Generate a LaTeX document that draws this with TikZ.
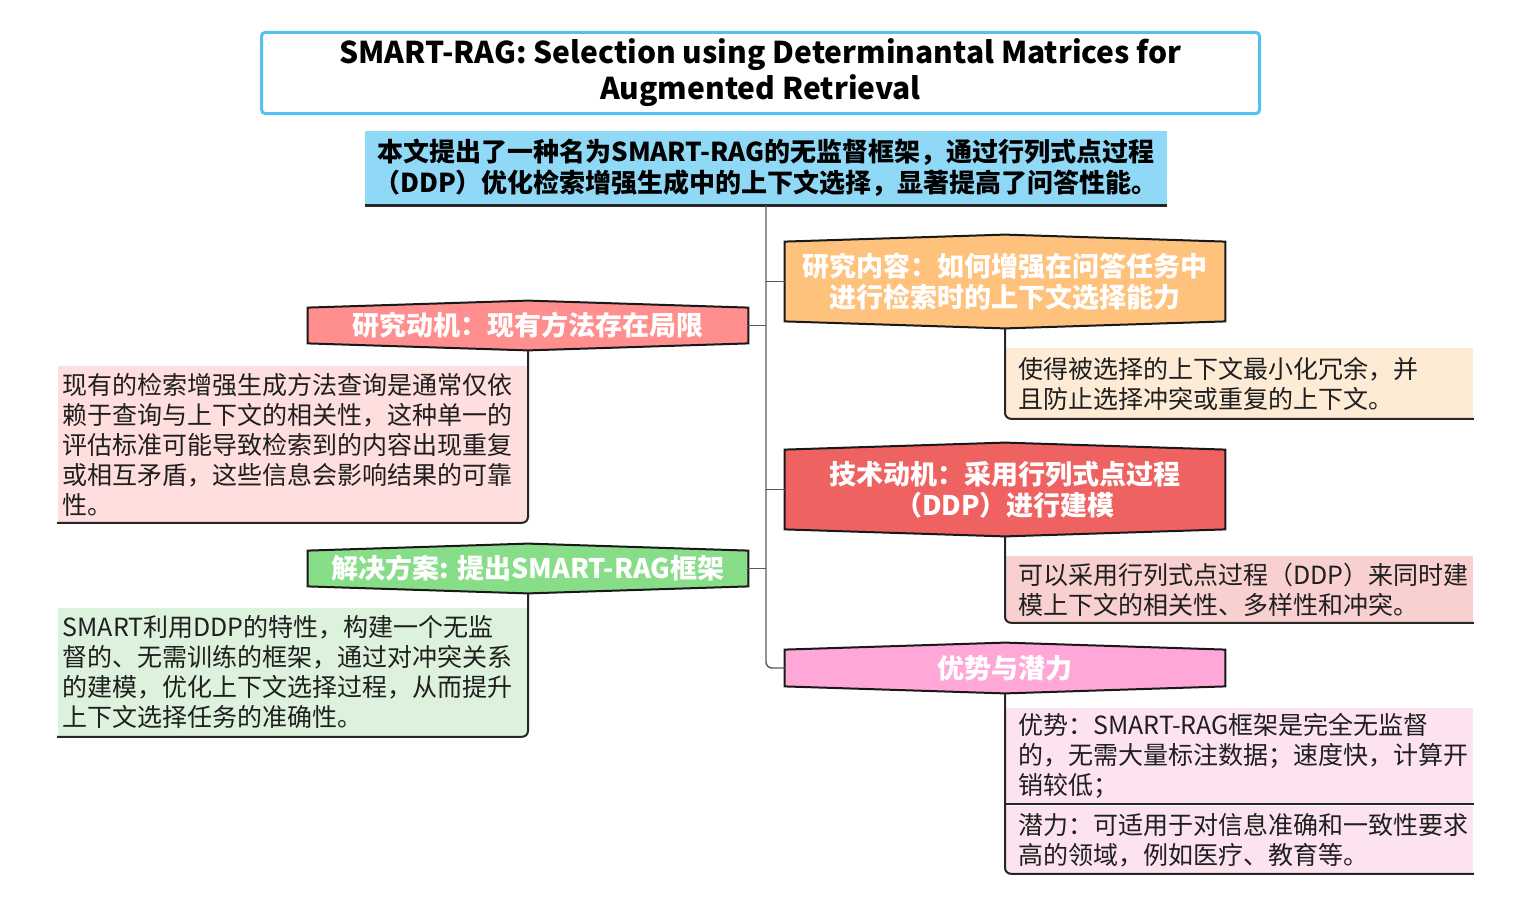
\documentclass[tikz,border=0pt]{standalone}
\usepackage{fontspec}
\setmainfont{Noto Sans CJK SC}
\usepackage{tikz}
\usetikzlibrary{positioning, backgrounds}

\definecolor{titleblue}{HTML}{55C1EE}
\definecolor{mainblue}{HTML}{8FD9F6}
\definecolor{headorange}{HTML}{FFC27D}
\definecolor{headred}{HTML}{EF6262}
\definecolor{headpink}{HTML}{FFA8D8}
\definecolor{headsalmon}{HTML}{FF8E8E}
\definecolor{headgreen}{HTML}{88DD88}
\definecolor{detorange}{HTML}{FEEBD6}
\definecolor{detred}{HTML}{F9D0D0}
\definecolor{detpink}{HTML}{FDE3F0}
\definecolor{detsalmon}{HTML}{FFDEDE}
\definecolor{detgreen}{HTML}{DDF2DC}

% flat hexagon behind a header node
\newcommand{\hexbg}[2]{%
  \filldraw[hex, fill=#2] ([yshift=-3.5pt]#1.north west) -- (#1.north) -- ([yshift=-3.5pt]#1.north east)
    -- ([yshift=3.5pt]#1.south east) -- (#1.south) -- ([yshift=3.5pt]#1.south west) -- cycle;}

\begin{document}
\begin{tikzpicture}[x=0.5pt, y=-0.5pt]
		\tikzstyle{head} = [text=white, font=\fontsize{13.5}{15.5}\selectfont\bfseries, align=center, minimum width=220pt, inner sep=0pt]
		\tikzstyle{detail} = [anchor=north west, font=\fontsize{12.5}{15}\selectfont, text=black!88, align=left, inner ysep=0pt, inner xsep=6.5pt, text width=221pt]
		\tikzstyle{ldetail} = [detail, anchor=north east, inner xsep=2.5pt, text width=230pt]
		\tikzstyle{line} = [draw, black!65, line width=0.7pt, rounded corners=3pt]
		\tikzstyle{edge} = [draw, black!85, line width=1pt, rounded corners=3pt]
		\tikzstyle{hex} = [draw=black!90, line width=1pt]

		\useasboundingbox (0,0) rectangle (1530,904);

		\node [draw=titleblue, line width=1.5pt, fill=white, rounded corners=2pt, minimum width=499pt, minimum height=40pt, align=center, font=\fontsize{15}{18}\selectfont\bfseries] (title) at (760.5,73) {SMART-RAG: Selection using Determinantal Matrices for \\ Augmented Retrieval};

		\node [fill=mainblue, minimum width=401pt, minimum height=37pt, inner sep=0pt, align=center, font=\fontsize{13}{15.5}\selectfont\bfseries] (main) at (766,168) {本文提出了一种名为SMART-RAG的无监督框架，通过行列式点过程 \\ （DDP）优化检索增强生成中的上下文选择，显著提高了问答性能。};
		\draw [line width=1.5pt, black!85] (main.south west) -- (main.south east);

		% right side
		\node [head, minimum height=46.5pt] (contenthead) at (1005,281.5) {研究内容：如何增强在问答任务中 \\ 进行检索时的上下文选择能力};
		\node [detail, fill=detorange, minimum height=35pt] (contentdet) at (1005,348) {使得被选择的上下文最小化冗余，并 \\ 且防止选择冲突或重复的上下文。};

		\node [head, minimum height=46.5pt] (techhead) at (1005,489.5) {技术动机：采用行列式点过程 \\ （DDP）进行建模};
		\node [detail, fill=detred, minimum height=33pt] (techdet) at (1005,556) {可以采用行列式点过程（DDP）来同时建 \\ 模上下文的相关性、多样性和冲突。};

		\node [head, minimum height=25pt] (gainhead) at (1005,668) {优势与潜力};
		\node [detail, fill=detpink, minimum height=47.5pt] (gaindet) at (1005,708) {优势：SMART-RAG框架是完全无监督 \\ 的，无需大量标注数据；速度快，计算开 \\ 销较低；};
		\node [detail, fill=detpink, minimum height=33.5pt] (usedet) at (1005,806) {潜力：可适用于对信息准确和一致性要求 \\ 高的领域，例如医疗、教育等。};

		% left side
		\node [head, minimum height=24.5pt] (motivhead) at (528,325.5) {研究动机：现有方法存在局限};
		\node [ldetail, fill=detsalmon, minimum height=78pt] (motivdet) at (528,366) {现有的检索增强生成方法查询是通常仅依 \\ 赖于查询与上下文的相关性，这种单一的 \\ 评估标准可能导致检索到的内容出现重复 \\ 或相互矛盾，这些信息会影响结果的可靠 \\ 性。};

		\node [head, minimum height=24.5pt] (solhead) at (528,568.5) {解决方案: 提出SMART-RAG框架};
		\node [ldetail, fill=detgreen, minimum height=64pt] (soldet) at (528,608) {SMART利用DDP的特性，构建一个无监 \\ 督的、无需训练的框架，通过对冲突关系 \\ 的建模，优化上下文选择过程，从而提升 \\ 上下文选择任务的准确性。};

		\begin{scope}[on background layer]
			\hexbg{contenthead}{headorange}
			\hexbg{techhead}{headred}
			\hexbg{gainhead}{headpink}
			\hexbg{motivhead}{headsalmon}
			\hexbg{solhead}{headgreen}
		\end{scope}

		\path [line] (main.south) |- (gainhead.west);
		\path [line] (main.south |- contenthead.west) -- (contenthead.west);
		\path [line] (main.south |- techhead.west) -- (techhead.west);
		\path [line] (main.south |- motivhead.east) -- (motivhead.east);
		\path [line] (main.south |- solhead.east) -- (solhead.east);

		\path [edge] (contenthead.south) -- (contentdet.south west) -- (contentdet.south east);
		\path [edge] (techhead.south) -- (techdet.south west) -- (techdet.south east);
		\path [edge] (gainhead.south) -- (usedet.south west) -- (usedet.south east);
		\path [edge] (gaindet.south west) -- (gaindet.south east);
		\path [edge] (motivhead.south) -- (motivdet.south east) -- (motivdet.south west);
		\path [edge] (solhead.south) -- (soldet.south east) -- (soldet.south west);
	\end{tikzpicture}
\end{document}
